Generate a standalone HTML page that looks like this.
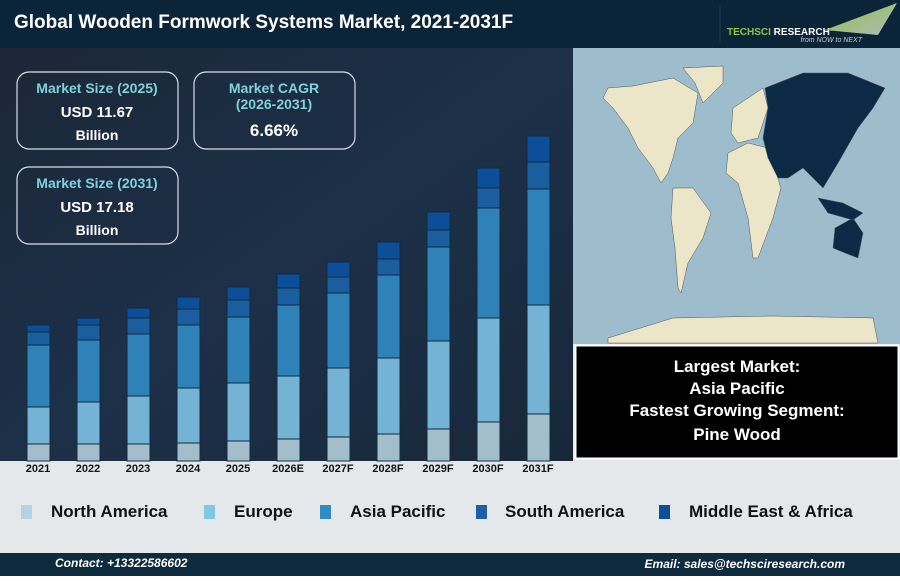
<!DOCTYPE html>
<html><head><meta charset="utf-8"><style>
body{margin:0;width:900px;height:576px;overflow:hidden;font-family:"Liberation Sans",sans-serif;}
</style></head><body>
<svg width="900" height="576" xmlns="http://www.w3.org/2000/svg" font-family="Liberation Sans, sans-serif">
<defs>
<linearGradient id="bg" x1="0" y1="0" x2="1" y2="1">
<stop offset="0" stop-color="#1c2738"/><stop offset="0.5" stop-color="#1c3048"/><stop offset="1" stop-color="#18283a"/>
</linearGradient>
<linearGradient id="tri" x1="0" y1="0" x2="1" y2="1"><stop offset="0" stop-color="#8dc63f"/><stop offset="1" stop-color="#b0b8c0"/></linearGradient>
</defs>
<rect x="0" y="0" width="900" height="576" fill="#e4e8ea"/>
<rect x="0" y="48" width="573" height="413" fill="url(#bg)"/>
<rect x="0" y="0" width="900" height="48" fill="#0c2438"/>
<text x="14" y="28" fill="#fff" font-size="19" font-weight="bold">Global Wooden Formwork Systems Market, 2021-2031F</text>
<line x1="720" y1="6" x2="720" y2="42" stroke="#1e3a50"/>
<text x="727" y="35" fill="#8dc63f" font-size="10" font-weight="bold">TECHSCI <tspan fill="#fff">RESEARCH</tspan></text>
<text x="862" y="42" fill="#ccc" font-size="7" font-style="italic" text-anchor="end">from NOW to NEXT</text>
<polygon points="825,30 897,3 878,35" fill="url(#tri)"/>

<g fill="none" stroke="#d8dde2" stroke-width="1.2">
<rect x="17" y="72" width="161" height="77" rx="12"/>
<rect x="194" y="72" width="161" height="77" rx="12"/>
<rect x="17" y="167" width="161" height="77" rx="12"/>
</g>
<g font-weight="bold" text-anchor="middle">
<text x="97" y="93" fill="#7fd3d8" font-size="14">Market Size (2025)</text>
<text x="97" y="117" fill="#fff" font-size="15">USD 11.67</text>
<text x="97" y="140" fill="#fff" font-size="14">Billion</text>
<text x="274" y="93" fill="#7fd3d8" font-size="14">Market CAGR</text>
<text x="274" y="109" fill="#7fd3d8" font-size="14">(2026-2031)</text>
<text x="274" y="136" fill="#fff" font-size="17">6.66%</text>
<text x="97" y="188" fill="#7fd3d8" font-size="14">Market Size (2031)</text>
<text x="97" y="212" fill="#fff" font-size="15">USD 17.18</text>
<text x="97" y="235" fill="#fff" font-size="14">Billion</text>
</g>

<g stroke="#0f2a40" stroke-width="1">
<rect x="27" y="325" width="23" height="7" fill="#0d4e99"/><rect x="27" y="332" width="23" height="13" fill="#1a5e9e"/><rect x="27" y="345" width="23" height="62" fill="#2f82b8"/><rect x="27" y="407" width="23" height="37" fill="#74b3d3"/><rect x="27" y="444" width="23" height="17" fill="#a4bdcb"/>
<rect x="77" y="318" width="23" height="7" fill="#0d4e99"/><rect x="77" y="325" width="23" height="15" fill="#1a5e9e"/><rect x="77" y="340" width="23" height="62" fill="#2f82b8"/><rect x="77" y="402" width="23" height="42" fill="#74b3d3"/><rect x="77" y="444" width="23" height="17" fill="#a4bdcb"/>
<rect x="127" y="308" width="23" height="10" fill="#0d4e99"/><rect x="127" y="318" width="23" height="16" fill="#1a5e9e"/><rect x="127" y="334" width="23" height="62" fill="#2f82b8"/><rect x="127" y="396" width="23" height="48" fill="#74b3d3"/><rect x="127" y="444" width="23" height="17" fill="#a4bdcb"/>
<rect x="177" y="297" width="23" height="12" fill="#0d4e99"/><rect x="177" y="309" width="23" height="16" fill="#1a5e9e"/><rect x="177" y="325" width="23" height="63" fill="#2f82b8"/><rect x="177" y="388" width="23" height="55" fill="#74b3d3"/><rect x="177" y="443" width="23" height="18" fill="#a4bdcb"/>
<rect x="227" y="287" width="23" height="13" fill="#0d4e99"/><rect x="227" y="300" width="23" height="17" fill="#1a5e9e"/><rect x="227" y="317" width="23" height="66" fill="#2f82b8"/><rect x="227" y="383" width="23" height="58" fill="#74b3d3"/><rect x="227" y="441" width="23" height="20" fill="#a4bdcb"/>
<rect x="277" y="274" width="23" height="14" fill="#0d4e99"/><rect x="277" y="288" width="23" height="17" fill="#1a5e9e"/><rect x="277" y="305" width="23" height="71" fill="#2f82b8"/><rect x="277" y="376" width="23" height="63" fill="#74b3d3"/><rect x="277" y="439" width="23" height="22" fill="#a4bdcb"/>
<rect x="327" y="262" width="23" height="15" fill="#0d4e99"/><rect x="327" y="277" width="23" height="16" fill="#1a5e9e"/><rect x="327" y="293" width="23" height="75" fill="#2f82b8"/><rect x="327" y="368" width="23" height="69" fill="#74b3d3"/><rect x="327" y="437" width="23" height="24" fill="#a4bdcb"/>
<rect x="377" y="242" width="23" height="17" fill="#0d4e99"/><rect x="377" y="259" width="23" height="16" fill="#1a5e9e"/><rect x="377" y="275" width="23" height="83" fill="#2f82b8"/><rect x="377" y="358" width="23" height="76" fill="#74b3d3"/><rect x="377" y="434" width="23" height="27" fill="#a4bdcb"/>
<rect x="427" y="212" width="23" height="18" fill="#0d4e99"/><rect x="427" y="230" width="23" height="17" fill="#1a5e9e"/><rect x="427" y="247" width="23" height="94" fill="#2f82b8"/><rect x="427" y="341" width="23" height="88" fill="#74b3d3"/><rect x="427" y="429" width="23" height="32" fill="#a4bdcb"/>
<rect x="477" y="168" width="23" height="20" fill="#0d4e99"/><rect x="477" y="188" width="23" height="20" fill="#1a5e9e"/><rect x="477" y="208" width="23" height="110" fill="#2f82b8"/><rect x="477" y="318" width="23" height="104" fill="#74b3d3"/><rect x="477" y="422" width="23" height="39" fill="#a4bdcb"/>
<rect x="527" y="136" width="23" height="26" fill="#0d4e99"/><rect x="527" y="162" width="23" height="27" fill="#1a5e9e"/><rect x="527" y="189" width="23" height="116" fill="#2f82b8"/><rect x="527" y="305" width="23" height="109" fill="#74b3d3"/><rect x="527" y="414" width="23" height="47" fill="#a4bdcb"/>
</g>
<g font-size="11" font-weight="bold" fill="#111" text-anchor="middle">
<text x="38" y="472">2021</text><text x="88" y="472">2022</text><text x="138" y="472">2023</text><text x="188" y="472">2024</text><text x="238" y="472">2025</text><text x="288" y="472">2026E</text><text x="338" y="472">2027F</text><text x="388" y="472">2028F</text><text x="438" y="472">2029F</text><text x="488" y="472">2030F</text><text x="538" y="472">2031F</text>
</g>

<rect x="573" y="48" width="327" height="296" fill="#9dbccc"/>
<g transform="translate(573,48)" stroke="#555" stroke-width="0.5">
<polygon fill="#ece6c8" points="35,40 60,38 100,30 125,45 120,75 105,90 100,110 95,125 88,135 80,120 65,100 55,80 40,60 30,50"/>
<polygon fill="#ece6c8" points="110,20 150,18 150,35 130,55 122,35"/>
<polygon fill="#ece6c8" points="100,140 120,140 138,165 130,190 115,215 108,245 105,240 102,200 98,170"/>
<polygon fill="#ece6c8" points="160,60 190,40 195,60 185,90 165,95 158,85"/>
<polygon fill="#ece6c8" points="155,105 175,95 195,100 208,140 200,170 185,210 180,210 175,170 165,135 153,125"/>
<polygon fill="#0c2a45" points="192,40 230,25 275,25 312,40 300,60 285,80 265,115 250,140 240,130 230,120 215,130 205,130 195,110 190,90 195,60"/>
<polygon fill="#0c2a45" points="262,180 280,170 290,185 285,210 272,205 260,200"/>
<polygon fill="#0c2a45" points="245,150 270,155 290,165 280,172 255,165"/>
<polygon fill="#ece6c8" points="35,290 100,270 200,268 300,270 305,295 35,295"/>
</g>

<rect x="575.5" y="345.5" width="323" height="113" fill="#000" stroke="#fff" stroke-width="2"/>
<g fill="#fff" font-size="17" font-weight="bold" text-anchor="middle">
<text x="737" y="372">Largest Market:</text>
<text x="737" y="394">Asia Pacific</text>
<text x="737" y="416">Fastest Growing Segment:</text>
<text x="737" y="440">Pine Wood</text>
</g>

<g font-size="17" font-weight="bold" fill="#111">
<rect x="21" y="505" width="11" height="14" fill="#b4d3e2"/><text x="51" y="517">North America</text>
<rect x="204" y="505" width="11" height="14" fill="#7fc9e2"/><text x="234" y="517">Europe</text>
<rect x="320" y="505" width="11" height="14" fill="#2f8cc0"/><text x="350" y="517">Asia Pacific</text>
<rect x="476" y="505" width="11" height="14" fill="#1b5fa8"/><text x="505" y="517">South America</text>
<rect x="659" y="505" width="11" height="14" fill="#0d4e99"/><text x="689" y="517">Middle East &amp; Africa</text>
</g>

<rect x="0" y="553" width="900" height="23" fill="#0e2a3d"/>
<text x="55" y="567" fill="#fff" font-size="12" font-weight="bold" font-style="italic">Contact: +13322586602</text>
<text x="845" y="568" fill="#fff" font-size="12" font-weight="bold" font-style="italic" text-anchor="end">Email: sales@techsciresearch.com</text>
</svg>
</body></html>
